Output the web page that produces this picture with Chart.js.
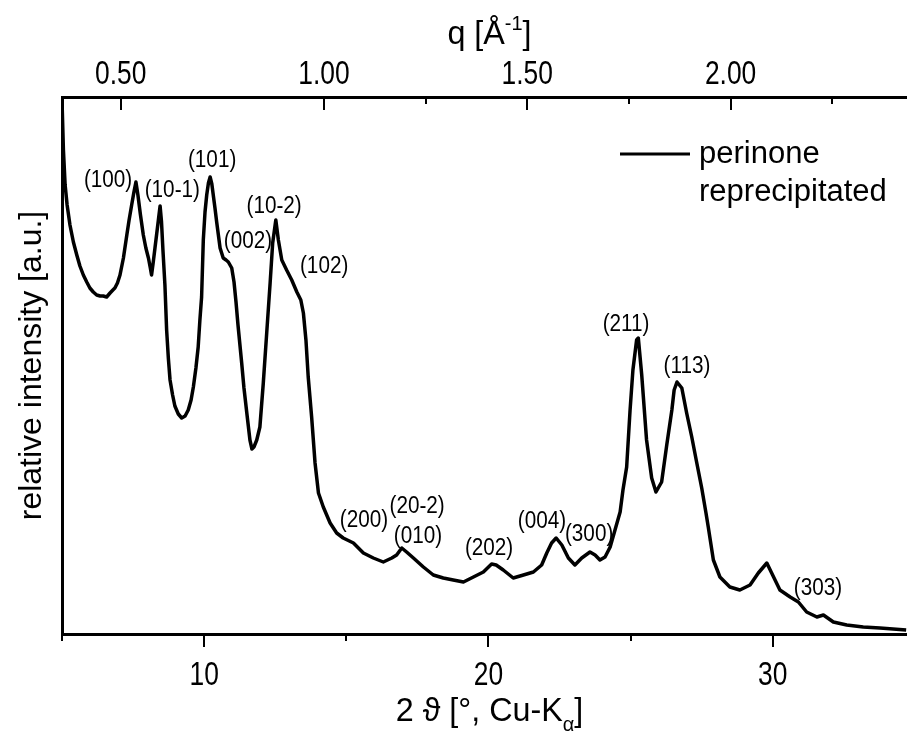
<!DOCTYPE html>
<html>
<head>
<meta charset="utf-8">
<title>perinone XRD</title>
<script src="https://cdn.jsdelivr.net/npm/chart.js@4.4.1/dist/chart.umd.min.js"></script>
<style>
  html, body { margin: 0; padding: 0; background: #fff; }
</style>
</head>
<body>
<canvas id="xrd" width="907" height="731"></canvas>
<script>
// 2θ [°] and intensity [a.u.] of the reprecipitated perinone powder pattern
const twoTheta = [
  5.01, 5.05, 5.11, 5.18, 5.28, 5.40, 5.52, 5.63, 5.75, 5.87,
  5.98, 6.10, 6.22, 6.34, 6.45, 6.57, 6.69, 6.79, 6.86, 6.95,
  7.04, 7.16, 7.28, 7.36, 7.45, 7.53, 7.60, 7.67, 7.76, 7.86,
  7.95, 8.04, 8.10, 8.15, 8.21, 8.27, 8.33, 8.39, 8.45, 8.50,
  8.55, 8.62, 8.68, 8.74, 8.80, 8.89, 8.97, 9.09, 9.21, 9.33,
  9.44, 9.54, 9.62, 9.71, 9.79, 9.85, 9.91, 9.97, 10.03, 10.09,
  10.15, 10.21, 10.27, 10.32, 10.38, 10.44, 10.50, 10.56, 10.67, 10.77,
  10.85, 10.91, 10.97, 11.01, 11.05, 11.12, 11.19, 11.32, 11.40, 11.50,
  11.61, 11.68, 11.75, 11.85, 11.96, 12.08, 12.20, 12.32, 12.41, 12.52,
  12.61, 12.73, 12.90, 13.08, 13.26, 13.40, 13.49, 13.58, 13.66, 13.78,
  13.84, 13.90, 14.02, 14.19, 14.43, 14.66, 14.89, 15.25, 15.60, 15.95,
  16.30, 16.60, 16.77, 16.95, 17.12, 17.36, 17.71, 18.06, 18.41, 18.76,
  19.12, 19.47, 19.82, 20.11, 20.27, 20.52, 20.87, 21.23, 21.58, 21.87,
  22.05, 22.22, 22.38, 22.58, 22.81, 23.04, 23.28, 23.57, 23.75, 23.92,
  24.10, 24.28, 24.45, 24.63, 24.73, 24.86, 24.98, 25.08, 25.21, 25.27,
  25.39, 25.56, 25.74, 25.89, 26.09, 26.27, 26.45, 26.53, 26.63, 26.80,
  26.97, 27.15, 27.32, 27.50, 27.65, 27.73, 27.91, 28.14, 28.49, 28.84,
  29.20, 29.49, 29.79, 29.96, 30.25, 30.61, 30.90, 31.19, 31.55, 31.78,
  32.13, 32.60, 33.18, 33.77, 34.69
];
const intensity = [
  524, 484, 449, 429, 409, 392, 379, 368, 359, 352,
  346, 342, 339, 338, 338, 337, 341, 344, 346, 351,
  359, 376, 399, 414, 429, 442, 452, 439, 419, 399,
  386, 376, 367, 359, 372, 386, 400, 414, 428, 412,
  384, 349, 304, 276, 254, 239, 228, 220, 216, 218,
  224, 234, 247, 266, 287, 314, 337, 394, 422, 439,
  451, 457, 450, 439, 426, 412, 399, 386, 376, 374,
  372, 369, 366, 359, 352, 332, 309, 271, 246, 221,
  194, 185, 187, 194, 207, 251, 301, 351, 391, 414,
  394, 374, 364, 354, 342, 334, 321, 294, 257, 217,
  194, 171, 141, 127, 111, 101, 96, 91, 81, 76,
  72, 76, 79, 86, 82, 76, 67, 59, 56, 54,
  52, 57, 62, 70, 69, 64, 56, 59, 62, 69,
  81, 91, 96, 89, 76, 69, 76, 82, 79, 74,
  77, 87, 104, 122, 144, 167, 224, 264, 294, 296,
  259, 194, 156, 142, 152, 189, 224, 244, 252, 246,
  221, 197, 172, 146, 121, 107, 74, 57, 47, 44,
  49, 61, 71, 61, 44, 37, 32, 22, 17, 19,
  12, 9, 7, 6, 4
];

// Miller indices and where their labels sit (2θ, intensity)
const hklNames = ['(100)', '(10-1)', '(101)', '(002)', '(10-2)', '(102)', '(200)', '(20-2)',
  '(010)', '(202)', '(004)', '(300)', '(211)', '(113)', '(303)'];
const hklTheta = [6.62, 8.88, 10.28, 11.54, 12.46, 14.22, 15.62, 17.49,
  17.52, 20.02, 21.88, 23.54, 24.84, 26.98, 31.59];
const hklLevel = [453, 443, 473, 392, 427, 367, 113, 127,
  97, 85, 112, 99, 309, 267, 45];

// axis ticks
const thetaTicks = [5, 10, 15, 20, 25, 30];
const thetaLabels = [10, 20, 30];
const qTicks = [0.50, 1.00, 1.25, 1.50, 1.75, 2.00, 2.25];
const qLabels = [0.50, 1.00, 1.50, 2.00];

const legendLines = ['perinone', 'reprecipitated'];

const thetaMin = 5;
const thetaMax = 34.72;
const yMax = 537;
const lambdaCu = 1.5406; // Cu-Ka1 wavelength in Å
const toQ = tt => 4 * Math.PI * Math.sin(tt / 2 * Math.PI / 180) / lambdaCu;

const FONT = '"Liberation Sans", Arial, Helvetica, sans-serif';
Chart.defaults.font.family = FONT;
Chart.defaults.color = '#000';

// narrow text: the font is squeezed horizontally by sx
function narrowText(ctx, text, x, y, size, sx, align, baseline) {
  ctx.save();
  ctx.translate(x, y);
  ctx.scale(sx, 1);
  ctx.font = size + 'px ' + FONT;
  ctx.textAlign = align;
  ctx.textBaseline = baseline;
  ctx.fillText(text, 0, 0);
  ctx.restore();
}

// text with sub- or superscripted pieces, centred at cx on baseline by
function richText(ctx, parts, cx, by, size, sx) {
  const small = Math.round(size * 0.62);
  let w = 0;
  parts.forEach(p => {
    ctx.font = (p.sub || p.sup ? small : size) + 'px ' + FONT;
    p.w = ctx.measureText(p.t).width * sx;
    w += p.w;
  });
  let x = cx - w / 2;
  parts.forEach(p => {
    let y = by;
    if (p.sub) y += size * 0.28;
    if (p.sup) y -= size * 0.42;
    narrowText(ctx, p.t, x, y, p.sub || p.sup ? small : size, sx, 'left', 'alphabetic');
    x += p.w;
  });
}

const decor = {
  id: 'decor',
  afterDraw(chart) {
    const { ctx, chartArea: area, scales } = chart;
    const xs = scales.x, qs = scales.q, ys = scales.y;
    ctx.save();
    ctx.strokeStyle = '#000';
    ctx.fillStyle = '#000';
    ctx.lineWidth = 2;

    // tick marks: outward on the 2θ axis, inward on the q axis
    ctx.beginPath();
    thetaTicks.forEach(v => {
      const px = Math.round(xs.getPixelForValue(v));
      const len = v % 10 === 0 ? 13 : 7;
      ctx.moveTo(px, area.bottom);
      ctx.lineTo(px, area.bottom + len);
    });
    qTicks.forEach(v => {
      const px = Math.round(qs.getPixelForValue(v));
      const len = qLabels.includes(v) ? 13 : 7;
      ctx.moveTo(px, area.top);
      ctx.lineTo(px, area.top + len);
    });
    ctx.stroke();

    // tick labels
    thetaLabels.forEach(v => {
      narrowText(ctx, String(v), xs.getPixelForValue(v), area.bottom + 51, 33, 0.8, 'center', 'alphabetic');
    });
    qLabels.forEach(v => {
      narrowText(ctx, v.toFixed(2), qs.getPixelForValue(v), area.top - 13, 33, 0.8, 'center', 'alphabetic');
    });

    // axis titles
    const mid = (area.left + area.right) / 2 + 5;
    richText(ctx, [{ t: '2 ϑ [°, Cu-K' }, { t: 'α', sub: true }, { t: ']' }], mid, 721, 34, 0.95);
    richText(ctx, [{ t: 'q [Å' }, { t: '-1', sup: true }, { t: ']' }], mid, 44, 34, 0.95);

    ctx.save();
    ctx.translate(32, (area.top + area.bottom) / 2);
    ctx.rotate(-Math.PI / 2);
    ctx.font = '32px ' + FONT;
    ctx.textAlign = 'center';
    ctx.textBaseline = 'middle';
    ctx.fillText('relative intensity [a.u.]', 0, 0);
    ctx.restore();

    // reflection labels
    hklNames.forEach((name, i) => {
      narrowText(ctx, name, xs.getPixelForValue(hklTheta[i]), ys.getPixelForValue(hklLevel[i]),
        23, 0.9, 'center', 'middle');
    });

    // legend
    ctx.lineWidth = 3;
    ctx.beginPath();
    ctx.moveTo(620, 154);
    ctx.lineTo(690, 154);
    ctx.stroke();
    ctx.font = '31px ' + FONT;
    ctx.textAlign = 'left';
    ctx.textBaseline = 'alphabetic';
    ctx.fillText(legendLines[0], 699, 163);
    ctx.fillText(legendLines[1], 699, 201);

    ctx.restore();
  }
};

const points = twoTheta.map((t, i) => ({ x: t, y: intensity[i] }));

new Chart(document.getElementById('xrd'), {
  type: 'line',
  data: {
    datasets: [{
      label: 'perinone reprecipitated',
      data: points,
      borderColor: '#000',
      borderWidth: 3.5,
      borderJoinStyle: 'round',
      pointRadius: 0,
      tension: 0,
      fill: false
    }]
  },
  options: {
    responsive: false,
    animation: false,
    devicePixelRatio: 1,
    layout: { padding: 0 },
    plugins: {
      legend: { display: false },
      tooltip: { enabled: false }
    },
    scales: {
      x: {
        type: 'linear',
        position: 'bottom',
        min: thetaMin,
        max: thetaMax,
        grid: { display: false, drawTicks: false },
        border: { display: true, color: '#000', width: 3 },
        ticks: { display: false },
        afterFit: s => { s.height = 97; }
      },
      q: {
        type: 'linear',
        axis: 'x',
        position: 'top',
        min: toQ(thetaMin),
        max: toQ(thetaMax),
        grid: { display: false, drawTicks: false },
        border: { display: true, color: '#000', width: 3 },
        ticks: { display: false },
        afterFit: s => { s.height = 97; }
      },
      y: {
        type: 'linear',
        min: 0,
        max: yMax,
        grid: { display: false, drawTicks: false },
        border: { display: true, color: '#000', width: 3 },
        ticks: { display: false },
        afterFit: s => { s.width = 62; }
      }
    }
  },
  plugins: [decor]
});
</script>
</body>
</html>
